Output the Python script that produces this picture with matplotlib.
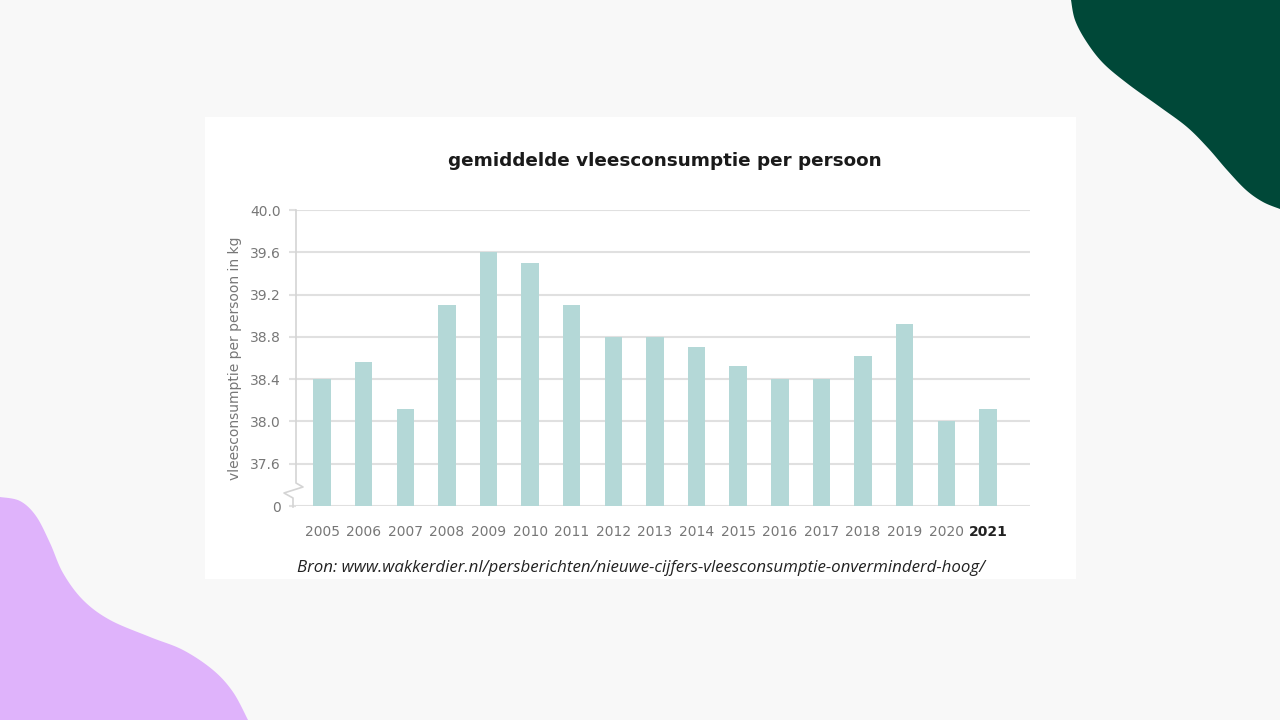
import matplotlib
matplotlib.use("Agg")
import numpy as np
from matplotlib import pyplot as plt
from matplotlib.patches import Rectangle, Polygon
from matplotlib.lines import Line2D

# data
years = ['2005', '2006', '2007', '2008', '2009', '2010', '2011', '2012', '2013',
         '2014', '2015', '2016', '2017', '2018', '2019', '2020', '2021']
kg = [38.4, 38.56, 38.12, 39.1, 39.6, 39.5, 39.1, 38.8, 38.8,
      38.7, 38.52, 38.4, 38.4, 38.62, 38.92, 38.0, 38.12]
tick_vals = [37.6, 38.0, 38.4, 38.8, 39.2, 39.6, 40.0]
base = 37.2   # the broken axis: 0 sits where 37.2 would be

W, H = 1280, 720
fig = plt.figure(figsize=(12.8, 7.2), dpi=100)
fig.patch.set_facecolor('#f8f8f8')

def fx(px):
    return px / W

def fy(py):
    return 1 - py / H

def smooth(pts, n=12):
    # catmull-rom through the outline points, just to round off the blob edges
    p = np.array(pts, dtype=float)
    p = np.vstack([p[0], p, p[-1]])
    out = []
    for i in range(1, len(p) - 2):
        p0, p1, p2, p3 = p[i - 1], p[i], p[i + 1], p[i + 2]
        for t in np.linspace(0, 1, n, endpoint=False):
            t2, t3 = t * t, t * t * t
            out.append(0.5 * (2 * p1 + (-p0 + p2) * t + (2 * p0 - 5 * p1 + 4 * p2 - p3) * t2
                              + (-p0 + 3 * p1 - 3 * p2 + p3) * t3))
    out.append(p[-2])
    return out

# white card behind the chart
fig.patches.append(Rectangle((fx(205), fy(579)), fx(1076) - fx(205), fy(117) - fy(579),
                             transform=fig.transFigure, facecolor='white', edgecolor='none', zorder=0))

# decorative blobs
green = [(1071, 0), (1075, 20), (1086, 41), (1103, 63), (1128, 84), (1160, 107), (1187, 127),
         (1208, 148), (1227, 170), (1246, 190), (1263, 202), (1280, 209)]
lilac = [(0, 497), (20, 501), (36, 516), (50, 543), (63, 573), (83, 600), (110, 620),
         (150, 637), (183, 650), (213, 670), (233, 692), (248, 720)]
for pts, corner, col in [(green, (1280, 0), '#004838'), (lilac, (0, 720), '#dfb3fb')]:
    outline = smooth(pts) + [corner]
    fig.patches.append(Polygon([(fx(x), fy(y)) for x, y in outline], closed=True,
                               transform=fig.transFigure, facecolor=col, edgecolor='none', zorder=1))

ax = fig.add_axes([fx(296), fy(506), fx(1030) - fx(296), fy(210) - fy(506)])
ax.set_facecolor('none')
ax.set_zorder(2)

x = range(len(years))
ax.bar(x, [v - base for v in kg], width=0.42, color='#b4d8d7', zorder=3)

ax.set_xlim(-0.625, 17.01)
ax.set_ylim(0, 40.0 - base)
yt = [0] + [v - base for v in tick_vals]
ax.set_yticks(yt)
ax.set_yticklabels(['0'] + ['%.1f' % v for v in tick_vals])
ax.yaxis.grid(True, color='#e0e0e0', linewidth=1.5, zorder=1)
ax.set_axisbelow(True)
ax.tick_params(axis='y', length=5, width=1.5, color='#e0e0e0', labelcolor='#777777',
               labelsize=10, pad=6)

ax.set_xticks(list(x))
ax.set_xticklabels(years)
ax.tick_params(axis='x', length=0, labelsize=10, pad=14, labelcolor='#777777')
lbl = ax.get_xticklabels()[-1]
lbl.set_fontweight('bold')
lbl.set_color('#222222')

for s in ax.spines.values():
    s.set_visible(False)

# left axis line with the zigzag break
axis_pts = [(296, 210), (296, 483), (303, 487), (284, 493), (293, 498), (293, 507)]
fig.lines.append(Line2D([fx(p[0]) for p in axis_pts], [fy(p[1]) for p in axis_pts],
                        transform=fig.transFigure, color='#d4d4d4', linewidth=1.2, zorder=3))

ax.set_ylabel('vleesconsumptie per persoon in kg', fontsize=10, color='#777777', labelpad=6)

fig.text(fx(665), fy(161), 'gemiddelde vleesconsumptie per persoon', ha='center', va='center',
         fontsize=13.2, fontweight='bold', color='#1a1a1a', family='DejaVu Sans')
fig.text(fx(641), fy(568), 'Bron: www.wakkerdier.nl/persberichten/nieuwe-cijfers-vleesconsumptie-onverminderd-hoog/',
         ha='center', va='center', fontsize=12.2, style='italic', color='#222222', family='Open Sans')

fig.savefig('out.png', dpi=100, facecolor=fig.get_facecolor())
